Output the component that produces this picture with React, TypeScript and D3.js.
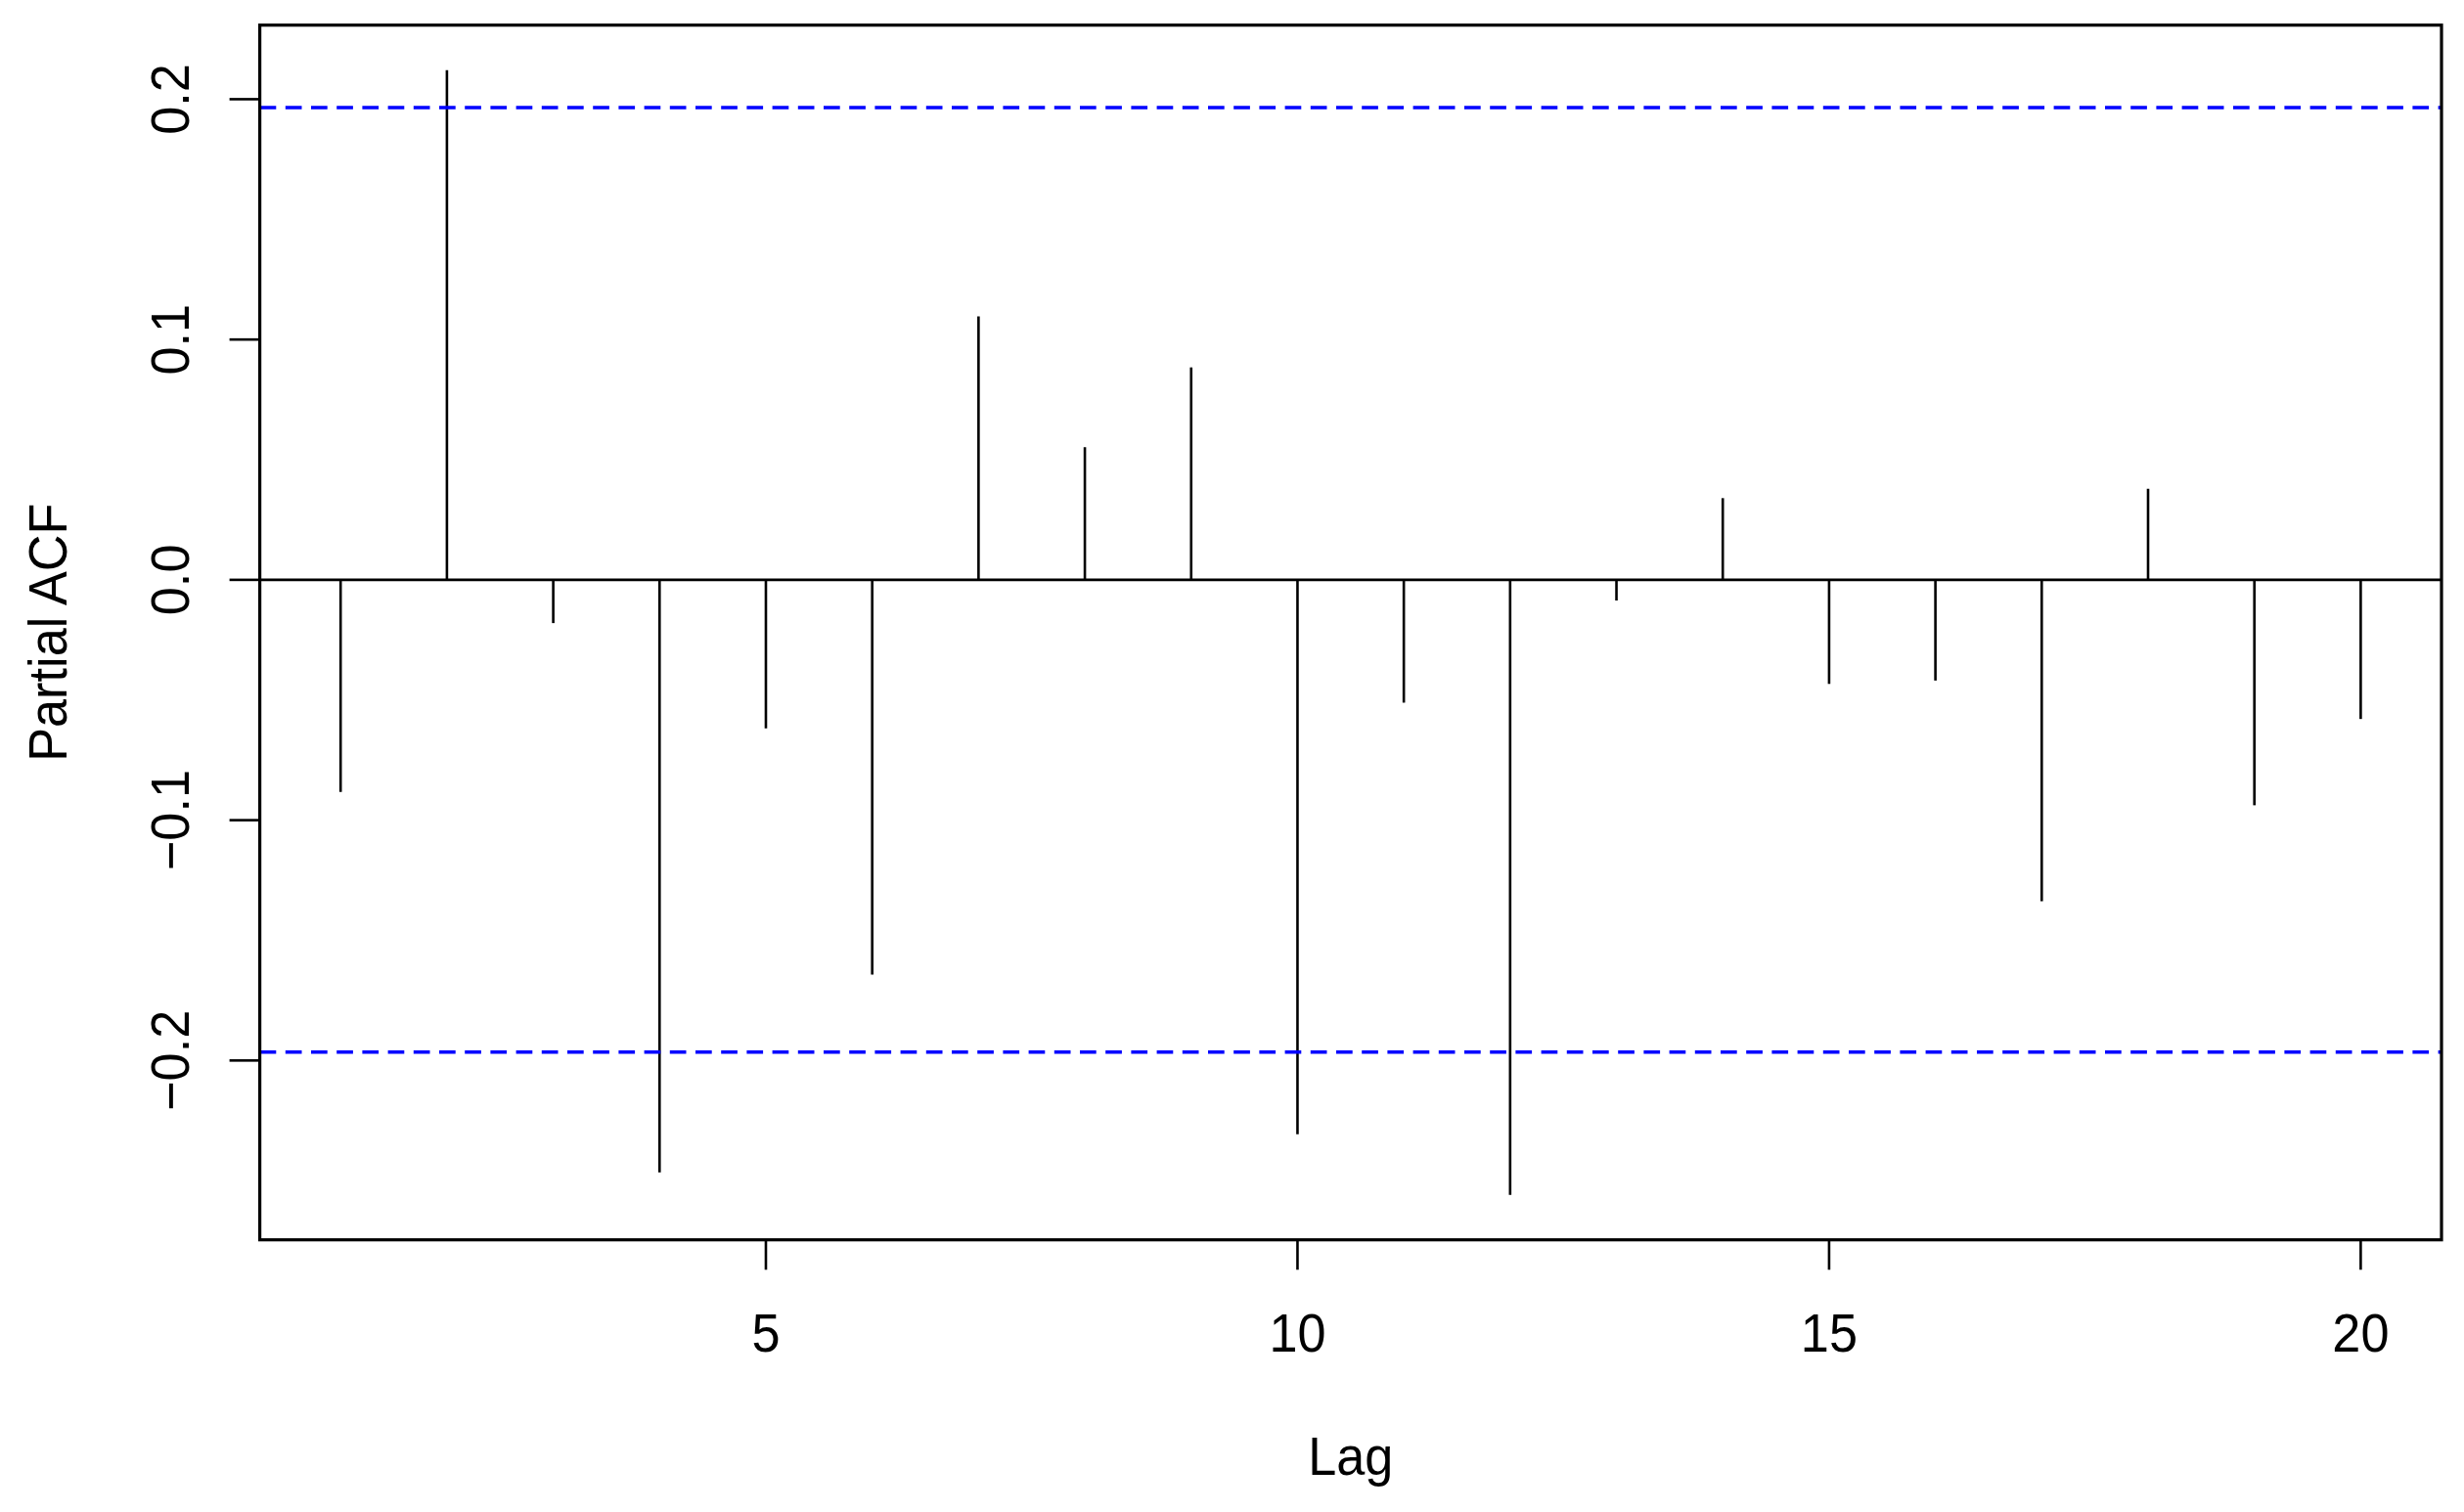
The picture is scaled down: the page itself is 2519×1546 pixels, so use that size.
import React from "react";
import * as d3 from "d3";

const lags = [1, 2, 3, 4, 5, 6, 7, 8, 9, 10, 11, 12, 13, 14, 15, 16, 17, 18, 19, 20];
const pacf = [
  -0.0883, 0.2121, -0.018, -0.2466, -0.0618, -0.1643, 0.1096, 0.0552, 0.0884, -0.2307,
  -0.0511, -0.2559, -0.0086, 0.034, -0.0433, -0.0419, -0.1337, 0.0379, -0.0938, -0.0579,
];
const ciBound = 0.1965;
const xTicks = [5, 10, 15, 20];
const yTicks = [-0.2, -0.1, 0.0, 0.1, 0.2];
const xLabel = "Lag";
const yLabel = "Partial ACF";

const W = 2519;
const H = 1546;
const plot = { left: 265.6, right: 2496, top: 25.7, bottom: 1267.7 };
const FONT = "'Liberation Sans', Arial, sans-serif";
const FS = 55;
const SX = 0.95;

function extend(lo: number, hi: number): [number, number] {
  const r = hi - lo;
  return [lo - 0.04 * r, hi + 0.04 * r];
}

function fmtY(v: number): string {
  const s = Math.abs(v).toFixed(1);
  return v < -1e-9 ? "\u2212" + s : s;
}

export default function App() {
  const [xmin, xmax] = d3.extent(lags) as [number, number];
  const x = d3.scaleLinear().domain(extend(xmin, xmax)).range([plot.left, plot.right]);
  const ylo = Math.min(d3.min(pacf) as number, -ciBound);
  const yhi = Math.max(d3.max(pacf) as number, ciBound);
  const y = d3.scaleLinear().domain(extend(ylo, yhi)).range([plot.bottom, plot.top]);

  return (
    <svg
      width={W}
      height={H}
      style={{ position: "absolute", left: 0, top: 0, background: "#fff" }}
      fontFamily={FONT}
    >
      <rect x={0} y={0} width={W} height={H} fill="#fff" />
      <defs>
        <clipPath id="plotclip">
          <rect x={plot.left} y={plot.top} width={plot.right - plot.left} height={plot.bottom - plot.top} />
        </clipPath>
      </defs>
      <g clipPath="url(#plotclip)">
        <line x1={plot.left} x2={plot.right} y1={y(0)} y2={y(0)} stroke="#000" strokeWidth={2.8} />
        {lags.map((l, i) => (
          <line key={l} x1={x(l)} x2={x(l)} y1={y(0)} y2={y(pacf[i])} stroke="#000" strokeWidth={2.6} />
        ))}
        {[ciBound, -ciBound].map((c) => (
          <line
            key={c}
            x1={plot.left}
            x2={plot.right}
            y1={y(c)}
            y2={y(c)}
            stroke="#0000ff"
            strokeWidth={3.6}
            strokeDasharray="16.7 9.5"
          />
        ))}
      </g>
      <rect
        x={plot.left}
        y={plot.top}
        width={plot.right - plot.left}
        height={plot.bottom - plot.top}
        fill="none"
        stroke="#000"
        strokeWidth={3.2}
      />
      {xTicks.map((t) => (
        <g key={t}>
          <line x1={x(t)} x2={x(t)} y1={plot.bottom} y2={plot.bottom + 30.6} stroke="#000" strokeWidth={2.6} />
          <text
            transform={`translate(${x(t)}, 1381.7) scale(${SX}, 1)`}
            textAnchor="middle"
            fontSize={FS}
            fill="#000"
          >
            {t}
          </text>
        </g>
      ))}
      {yTicks.map((t) => (
        <g key={t}>
          <line x1={plot.left - 31} x2={plot.left} y1={y(t)} y2={y(t)} stroke="#000" strokeWidth={2.6} />
          <text
            transform={`translate(192.7, ${y(t)}) rotate(-90) scale(${SX}, 1)`}
            textAnchor="middle"
            fontSize={FS}
            fill="#000"
          >
            {fmtY(t)}
          </text>
        </g>
      ))}
      <text
        transform={`translate(${(plot.left + plot.right) / 2}, 1508) scale(${SX}, 1)`}
        textAnchor="middle"
        fontSize={FS}
        fill="#000"
      >
        {xLabel}
      </text>
      <text
        transform={`translate(67.7, ${(plot.top + plot.bottom) / 2}) rotate(-90) scale(${SX}, 1)`}
        textAnchor="middle"
        fontSize={FS}
        fill="#000"
      >
        {yLabel}
      </text>
    </svg>
  );
}
